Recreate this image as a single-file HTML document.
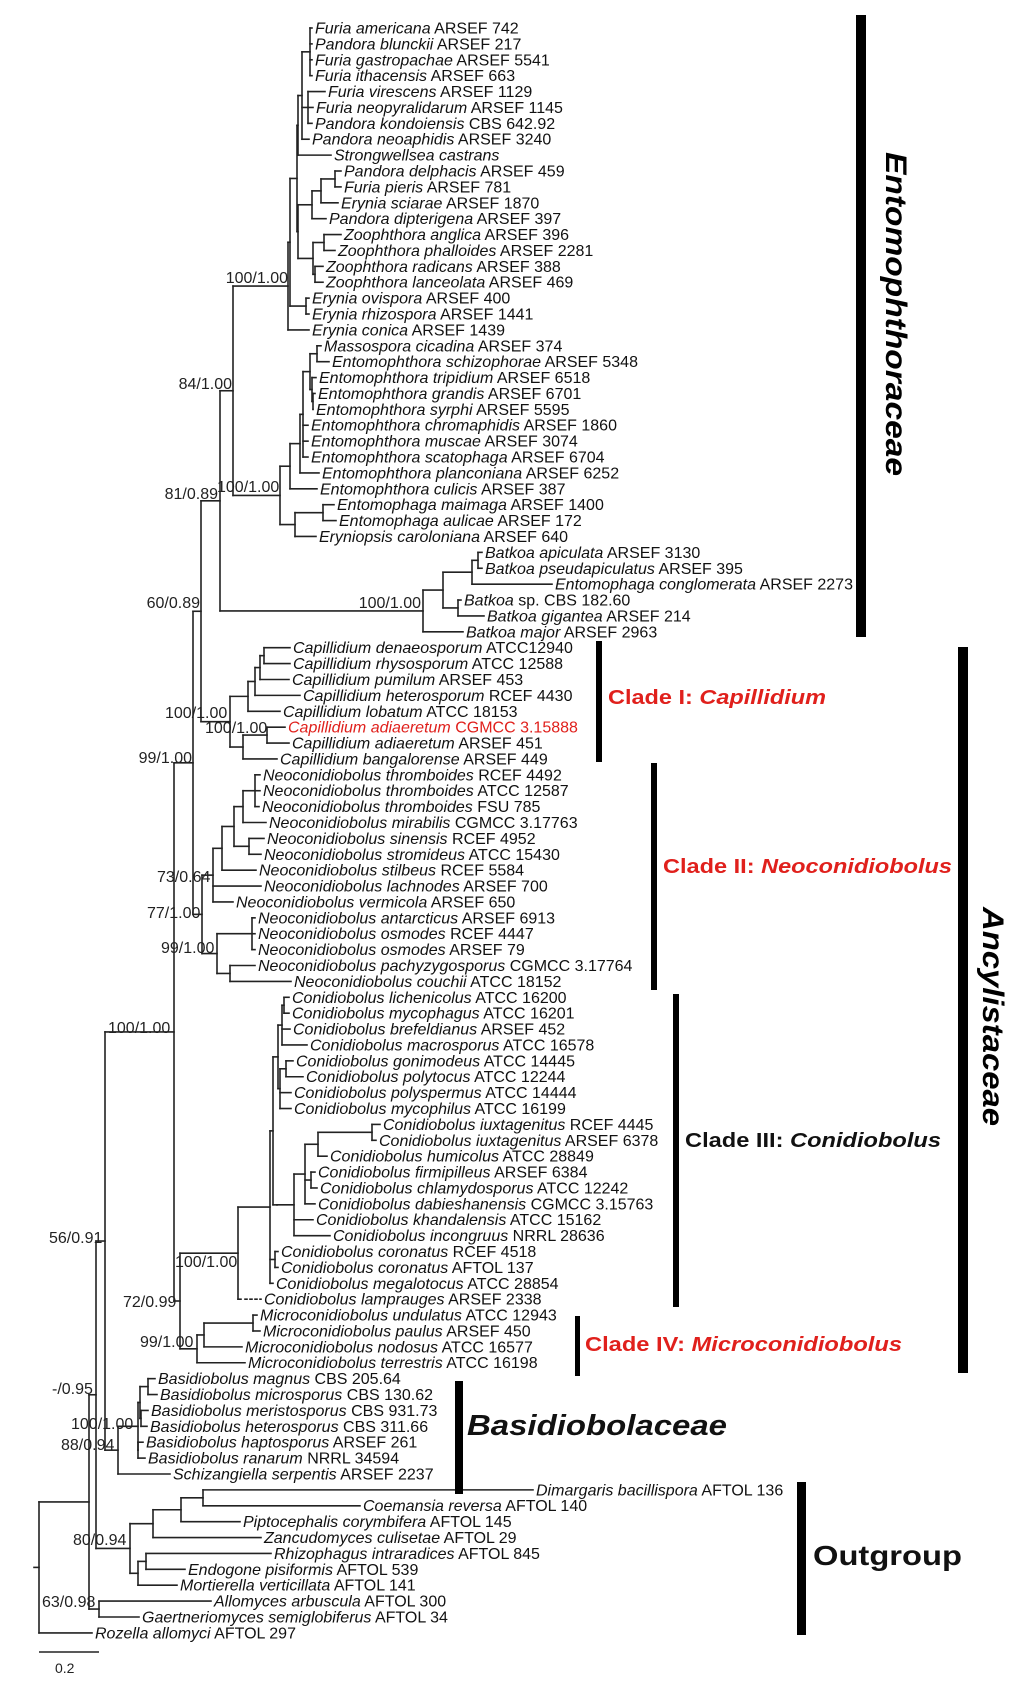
<!DOCTYPE html>
<html><head><meta charset="utf-8">
<style>
html,body{margin:0;padding:0;background:#fff;}
svg{display:block;}
.t{font-family:"Liberation Sans",Arial,sans-serif;font-size:16px;fill:#111;}
.i{font-style:italic;}
.b{font-family:"Liberation Sans",Arial,sans-serif;font-size:16px;fill:#222;}
.big{font-family:"Liberation Sans",Arial,sans-serif;font-weight:bold;}
</style></head>
<body>
<svg id="s" width="1024" height="1689" viewBox="0 0 1024 1689" xmlns="http://www.w3.org/2000/svg">
<g id="tree" stroke="#222" stroke-width="1.6" fill="none" stroke-linecap="square"></g>
<g class="t">
<text x="315" y="33.5"><tspan class="i">Furia americana</tspan> ARSEF 742</text>
<text x="315" y="49.4"><tspan class="i">Pandora blunckii</tspan> ARSEF 217</text>
<text x="315" y="65.3"><tspan class="i">Furia gastropachae</tspan> ARSEF 5541</text>
<text x="315" y="81.2"><tspan class="i">Furia ithacensis</tspan> ARSEF 663</text>
<text x="328" y="97.1"><tspan class="i">Furia virescens</tspan> ARSEF 1129</text>
<text x="316" y="112.9"><tspan class="i">Furia neopyralidarum</tspan> ARSEF 1145</text>
<text x="315" y="128.8"><tspan class="i">Pandora kondoiensis</tspan> CBS 642.92</text>
<text x="312" y="144.7"><tspan class="i">Pandora neoaphidis</tspan> ARSEF 3240</text>
<text x="334" y="160.6"><tspan class="i">Strongwellsea castrans</tspan></text>
<text x="344" y="176.5"><tspan class="i">Pandora delphacis</tspan> ARSEF 459</text>
<text x="344" y="192.4"><tspan class="i">Furia pieris</tspan> ARSEF 781</text>
<text x="341" y="208.3"><tspan class="i">Erynia sciarae</tspan> ARSEF 1870</text>
<text x="329" y="224.2"><tspan class="i">Pandora dipterigena</tspan> ARSEF 397</text>
<text x="344" y="240.1"><tspan class="i">Zoophthora anglica</tspan> ARSEF 396</text>
<text x="338" y="256.0"><tspan class="i">Zoophthora phalloides</tspan> ARSEF 2281</text>
<text x="326" y="271.8"><tspan class="i">Zoophthora radicans</tspan> ARSEF 388</text>
<text x="326" y="287.7"><tspan class="i">Zoophthora lanceolata</tspan> ARSEF 469</text>
<text x="312" y="303.6"><tspan class="i">Erynia ovispora</tspan> ARSEF 400</text>
<text x="312" y="319.5"><tspan class="i">Erynia rhizospora</tspan> ARSEF 1441</text>
<text x="312" y="335.4"><tspan class="i">Erynia conica</tspan> ARSEF 1439</text>
<text x="324" y="351.3"><tspan class="i">Massospora cicadina</tspan> ARSEF 374</text>
<text x="332" y="367.2"><tspan class="i">Entomophthora schizophorae</tspan> ARSEF 5348</text>
<text x="319" y="383.1"><tspan class="i">Entomophthora tripidium</tspan> ARSEF 6518</text>
<text x="318" y="399.0"><tspan class="i">Entomophthora grandis</tspan> ARSEF 6701</text>
<text x="316" y="414.9"><tspan class="i">Entomophthora syrphi</tspan> ARSEF 5595</text>
<text x="311" y="430.7"><tspan class="i">Entomophthora chromaphidis</tspan> ARSEF 1860</text>
<text x="311" y="446.6"><tspan class="i">Entomophthora muscae</tspan> ARSEF 3074</text>
<text x="311" y="462.5"><tspan class="i">Entomophthora scatophaga</tspan> ARSEF 6704</text>
<text x="322" y="478.4"><tspan class="i">Entomophthora planconiana</tspan> ARSEF 6252</text>
<text x="320" y="494.3"><tspan class="i">Entomophthora culicis</tspan> ARSEF 387</text>
<text x="337" y="510.2"><tspan class="i">Entomophaga maimaga</tspan> ARSEF 1400</text>
<text x="339" y="526.1"><tspan class="i">Entomophaga aulicae</tspan> ARSEF 172</text>
<text x="319" y="542.0"><tspan class="i">Eryniopsis caroloniana</tspan> ARSEF 640</text>
<text x="485" y="557.9"><tspan class="i">Batkoa apiculata</tspan> ARSEF 3130</text>
<text x="485" y="573.8"><tspan class="i">Batkoa pseudapiculatus</tspan> ARSEF 395</text>
<text x="555" y="589.6"><tspan class="i">Entomophaga conglomerata</tspan> ARSEF 2273</text>
<text x="464" y="605.5"><tspan class="i">Batkoa</tspan> sp. CBS 182.60</text>
<text x="487" y="621.4"><tspan class="i">Batkoa gigantea</tspan> ARSEF 214</text>
<text x="466" y="637.3"><tspan class="i">Batkoa major</tspan> ARSEF 2963</text>
<text x="293" y="653.2"><tspan class="i">Capillidium denaeosporum</tspan> ATCC12940</text>
<text x="293" y="669.1"><tspan class="i">Capillidium rhysosporum</tspan> ATCC 12588</text>
<text x="292" y="685.0"><tspan class="i">Capillidium pumilum</tspan> ARSEF 453</text>
<text x="303" y="700.9"><tspan class="i">Capillidium heterosporum</tspan> RCEF 4430</text>
<text x="283" y="716.8"><tspan class="i">Capillidium lobatum</tspan> ATCC 18153</text>
<text x="288" y="732.6" fill="#e0201c"><tspan class="i">Capillidium adiaeretum</tspan> CGMCC 3.15888</text>
<text x="292" y="748.5"><tspan class="i">Capillidium adiaeretum</tspan> ARSEF 451</text>
<text x="280" y="764.4"><tspan class="i">Capillidium bangalorense</tspan> ARSEF 449</text>
<text x="263" y="780.3"><tspan class="i">Neoconidiobolus thromboides</tspan> RCEF 4492</text>
<text x="263" y="796.2"><tspan class="i">Neoconidiobolus thromboides</tspan> ATCC 12587</text>
<text x="262" y="812.1"><tspan class="i">Neoconidiobolus thromboides</tspan> FSU 785</text>
<text x="269" y="828.0"><tspan class="i">Neoconidiobolus mirabilis</tspan> CGMCC 3.17763</text>
<text x="267" y="843.9"><tspan class="i">Neoconidiobolus sinensis</tspan> RCEF 4952</text>
<text x="264" y="859.8"><tspan class="i">Neoconidiobolus stromideus</tspan> ATCC 15430</text>
<text x="259" y="875.6"><tspan class="i">Neoconidiobolus stilbeus</tspan> RCEF 5584</text>
<text x="264" y="891.5"><tspan class="i">Neoconidiobolus lachnodes</tspan> ARSEF 700</text>
<text x="236" y="907.4"><tspan class="i">Neoconidiobolus vermicola</tspan> ARSEF 650</text>
<text x="258" y="923.3"><tspan class="i">Neoconidiobolus antarcticus</tspan> ARSEF 6913</text>
<text x="258" y="939.2"><tspan class="i">Neoconidiobolus osmodes</tspan> RCEF 4447</text>
<text x="258" y="955.1"><tspan class="i">Neoconidiobolus osmodes</tspan> ARSEF 79</text>
<text x="258" y="971.0"><tspan class="i">Neoconidiobolus pachyzygosporus</tspan> CGMCC 3.17764</text>
<text x="294" y="986.9"><tspan class="i">Neoconidiobolus couchii</tspan> ATCC 18152</text>
<text x="292" y="1002.8"><tspan class="i">Conidiobolus lichenicolus</tspan> ATCC 16200</text>
<text x="292" y="1018.7"><tspan class="i">Conidiobolus mycophagus</tspan> ATCC 16201</text>
<text x="293" y="1034.5"><tspan class="i">Conidiobolus brefeldianus</tspan> ARSEF 452</text>
<text x="310" y="1050.4"><tspan class="i">Conidiobolus macrosporus</tspan> ATCC 16578</text>
<text x="296" y="1066.3"><tspan class="i">Conidiobolus gonimodeus</tspan> ATCC 14445</text>
<text x="306" y="1082.2"><tspan class="i">Conidiobolus polytocus</tspan> ATCC 12244</text>
<text x="294" y="1098.1"><tspan class="i">Conidiobolus polyspermus</tspan> ATCC 14444</text>
<text x="294" y="1114.0"><tspan class="i">Conidiobolus mycophilus</tspan> ATCC 16199</text>
<text x="383" y="1129.9"><tspan class="i">Conidiobolus iuxtagenitus</tspan> RCEF 4445</text>
<text x="379" y="1145.8"><tspan class="i">Conidiobolus iuxtagenitus</tspan> ARSEF 6378</text>
<text x="330" y="1161.7"><tspan class="i">Conidiobolus humicolus</tspan> ATCC 28849</text>
<text x="318" y="1177.6"><tspan class="i">Conidiobolus firmipilleus</tspan> ARSEF 6384</text>
<text x="320" y="1193.4"><tspan class="i">Conidiobolus chlamydosporus</tspan> ATCC 12242</text>
<text x="318" y="1209.3"><tspan class="i">Conidiobolus dabieshanensis</tspan> CGMCC 3.15763</text>
<text x="316" y="1225.2"><tspan class="i">Conidiobolus khandalensis</tspan> ATCC 15162</text>
<text x="333" y="1241.1"><tspan class="i">Conidiobolus incongruus</tspan> NRRL 28636</text>
<text x="281" y="1257.0"><tspan class="i">Conidiobolus coronatus</tspan> RCEF 4518</text>
<text x="281" y="1272.9"><tspan class="i">Conidiobolus coronatus</tspan> AFTOL 137</text>
<text x="276" y="1288.8"><tspan class="i">Conidiobolus megalotocus</tspan> ATCC 28854</text>
<text x="264" y="1304.7"><tspan class="i">Conidiobolus lamprauges</tspan> ARSEF 2338</text>
<text x="260" y="1320.6"><tspan class="i">Microconidiobolus undulatus</tspan> ATCC 12943</text>
<text x="263" y="1336.5"><tspan class="i">Microconidiobolus paulus</tspan> ARSEF 450</text>
<text x="245" y="1352.3"><tspan class="i">Microconidiobolus nodosus</tspan> ATCC 16577</text>
<text x="248" y="1368.2"><tspan class="i">Microconidiobolus terrestris</tspan> ATCC 16198</text>
<text x="158" y="1384.1"><tspan class="i">Basidiobolus magnus</tspan> CBS 205.64</text>
<text x="160" y="1400.0"><tspan class="i">Basidiobolus microsporus</tspan> CBS 130.62</text>
<text x="151" y="1415.9"><tspan class="i">Basidiobolus meristosporus</tspan> CBS 931.73</text>
<text x="150" y="1431.8"><tspan class="i">Basidiobolus heterosporus</tspan> CBS 311.66</text>
<text x="146" y="1447.7"><tspan class="i">Basidiobolus haptosporus</tspan> ARSEF 261</text>
<text x="148" y="1463.6"><tspan class="i">Basidiobolus ranarum</tspan> NRRL 34594</text>
<text x="173" y="1479.5"><tspan class="i">Schizangiella serpentis</tspan> ARSEF 2237</text>
<text x="536" y="1495.4"><tspan class="i">Dimargaris bacillispora</tspan> AFTOL 136</text>
<text x="363" y="1511.2"><tspan class="i">Coemansia reversa</tspan> AFTOL 140</text>
<text x="243" y="1527.1"><tspan class="i">Piptocephalis corymbifera</tspan> AFTOL 145</text>
<text x="264" y="1543.0"><tspan class="i">Zancudomyces culisetae</tspan> AFTOL 29</text>
<text x="274" y="1558.9"><tspan class="i">Rhizophagus intraradices</tspan> AFTOL 845</text>
<text x="188" y="1574.8"><tspan class="i">Endogone pisiformis</tspan> AFTOL 539</text>
<text x="180" y="1590.7"><tspan class="i">Mortierella verticillata</tspan> AFTOL 141</text>
<text x="214" y="1606.6"><tspan class="i">Allomyces arbuscula</tspan> AFTOL 300</text>
<text x="142" y="1622.5"><tspan class="i">Gaertneriomyces semiglobiferus</tspan> AFTOL 34</text>
<text x="95" y="1638.4"><tspan class="i">Rozella allomyci</tspan> AFTOL 297</text>
</g>
<g class="b">
<text x="288" y="283" text-anchor="end">100/1.00</text>
<text x="232" y="389" text-anchor="end">84/1.00</text>
<text x="218" y="499" text-anchor="end">81/0.89</text>
<text x="217" y="492">100/1.00</text>
<text x="200" y="608" text-anchor="end">60/0.89</text>
<text x="421" y="608" text-anchor="end">100/1.00</text>
<text x="165" y="718">100/1.00</text>
<text x="205" y="733">100/1.00</text>
<text x="192" y="763" text-anchor="end">99/1.00</text>
<text x="157" y="882">73/0.64</text>
<text x="147" y="918">77/1.00</text>
<text x="161" y="953">99/1.00</text>
<text x="108" y="1033">100/1.00</text>
<text x="49" y="1243">56/0.91</text>
<text x="175" y="1267">100/1.00</text>
<text x="123" y="1307">72/0.99</text>
<text x="140" y="1347">99/1.00</text>
<text x="52" y="1394">-/0.95</text>
<text x="71" y="1429">100/1.00</text>
<text x="61" y="1450">88/0.94</text>
<text x="73" y="1545">80/0.94</text>
<text x="42" y="1607">63/0.98</text>
<text x="55" y="1673" style="font-size:14px">0.2</text>
</g>
<line x1="39" y1="1652" x2="99" y2="1652" stroke="#222" stroke-width="1.6"/>
<!-- bars -->
<g fill="#000">
<rect x="856" y="15" width="10" height="622"/>
<rect x="596" y="641" width="6" height="121"/>
<rect x="651" y="763" width="6" height="227"/>
<rect x="673" y="994" width="6" height="313"/>
<rect x="575" y="1316" width="5" height="60"/>
<rect x="958" y="647" width="10" height="726"/>
<rect x="455" y="1381" width="8" height="113"/>
<rect x="797" y="1482" width="9" height="153"/>
</g>
<g class="big">
<text x="886" y="152" transform="rotate(90 886 152)" font-size="30" font-style="italic" textLength="324" lengthAdjust="spacingAndGlyphs">Entomophthoraceae</text>
<text x="983" y="907" transform="rotate(90 983 907)" font-size="30" font-style="italic" textLength="219" lengthAdjust="spacingAndGlyphs">Ancylistaceae</text>
<text x="608" y="704" font-size="20" fill="#e0201c" textLength="218" lengthAdjust="spacingAndGlyphs">Clade I: <tspan font-style="italic">Capillidium</tspan></text>
<text x="663" y="873" font-size="20" fill="#e0201c" textLength="289" lengthAdjust="spacingAndGlyphs">Clade II: <tspan font-style="italic">Neoconidiobolus</tspan></text>
<text x="685" y="1147" font-size="20" fill="#111" textLength="256" lengthAdjust="spacingAndGlyphs">Clade III: <tspan font-style="italic">Conidiobolus</tspan></text>
<text x="585" y="1351" font-size="20" fill="#e0201c" textLength="317" lengthAdjust="spacingAndGlyphs">Clade IV: <tspan font-style="italic">Microconidiobolus</tspan></text>
<text x="467" y="1435" font-size="29" font-style="italic" fill="#111" textLength="260" lengthAdjust="spacingAndGlyphs">Basidiobolaceae</text>
<text x="813" y="1565" font-size="28" fill="#111" textLength="149" lengthAdjust="spacingAndGlyphs">Outgroup</text>
</g>
</svg>
<script>
(function(){
var TX={1:315,2:315,3:315,4:315,5:328,6:316,7:315,8:312,9:334,10:344,11:344,12:341,13:329,14:344,15:338,16:326,17:326,18:312,19:312,20:312,
21:324,22:332,23:319,24:318,25:316,26:311,27:311,28:311,29:322,30:320,31:337,32:339,33:319,34:485,35:485,36:555,37:464,38:487,39:466,
40:293,41:293,42:292,43:303,44:283,45:288,46:292,47:280,48:263,49:263,50:262,51:269,52:267,53:264,54:259,55:264,56:236,57:258,58:258,59:258,60:258,61:294,
62:292,63:292,64:293,65:310,66:296,67:306,68:294,69:294,70:383,71:379,72:330,73:318,74:320,75:318,76:316,77:333,78:281,79:281,80:276,81:264,
82:260,83:263,84:245,85:248,86:158,87:160,88:151,89:150,90:146,91:148,92:173,93:536,94:363,95:243,96:264,97:274,98:188,99:180,100:214,101:142,102:95};
function Y(i){return 28+(i-1)*15.89;}
function N(x){return {x:x,c:Array.prototype.slice.call(arguments,1)};}
var g=document.getElementById('tree'),NS='http://www.w3.org/2000/svg';
function L(x1,y1,x2,y2,dash){var l=document.createElementNS(NS,'line');l.setAttribute('x1',x1);l.setAttribute('y1',y1);l.setAttribute('x2',x2);l.setAttribute('y2',y2);if(dash)l.setAttribute('stroke-dasharray',dash);g.appendChild(l);}
function D(n){
 if(typeof n==='number')return {y:Y(n),x:TX[n]-3,leaf:n};
 var cs=n.c.map(D),mn=1e9,mx=-1e9;
 cs.forEach(function(c){
   if(c.leaf===81){L(n.x,c.y,n.x+3,c.y);L(n.x+7,c.y,c.x,c.y,'2,3');}
   else L(n.x,c.y,c.x,c.y);
   mn=Math.min(mn,c.y);mx=Math.max(mx,c.y);});
 L(n.x,mn,n.x,mx);
 return {y:(mn+mx)/2,x:n.x};
}
var T=N(39,
 N(89,
  N(96,
   N(105,
    N(174,
     N(193,
      N(201,
       N(220,
        N(233,
         N(288,
          N(290,
           N(297,
            N(298,N(302,N(310,1,2,3,4),N(308,5,6,7),8),9),
            N(298,N(312,N(321,N(335,10,11),12),13),N(313,N(324,14,15),N(315,16,17)))
           ),
           N(306,18,19)
          ),
          20),
         N(280,N(290,N(300,N(303,N(310,N(317,21,22),N(312,23,N(313,24,25))),26,27,28),29),30),N(295,N(323,31,32),33))
        ),
        N(423,N(443,N(472,N(478,34,35),36),N(458,37,38)),39)
       ),
       N(230,N(248,N(255,N(260,N(264,40,41),42),43),44),N(243,N(267,45,46),47))
      ),
      N(202,N(213,N(222,N(234,N(243,N(255,48,49,50),51),N(249,52,53)),54),55,56),N(217,N(252,57,58,59),N(230,60,61)))
     ),
     N(180,
      N(238,N(270,N(273,N(278,N(282,N(284,62,63),64,65),N(280,N(286,66,67),68,69)),N(277,N(294,N(305,N(318,N(372,70,71),72),N(311,73,74),75),76,77))),N(275,78,79),80),81),
      N(197,N(204,N(253,82,83),84),85))
    ),
    N(118,N(138,N(140,N(148,86,87),N(141,88,89)),N(138,90,91)),92)
   ),
   N(130,N(153,N(181,N(203,93,94),95),96),N(138,N(146,97,98),99))
  ),
  N(99,100,101)
 ),
 102);
var r=D(T);L(34,r.y,39,r.y);
})();
</script>
</body></html>
